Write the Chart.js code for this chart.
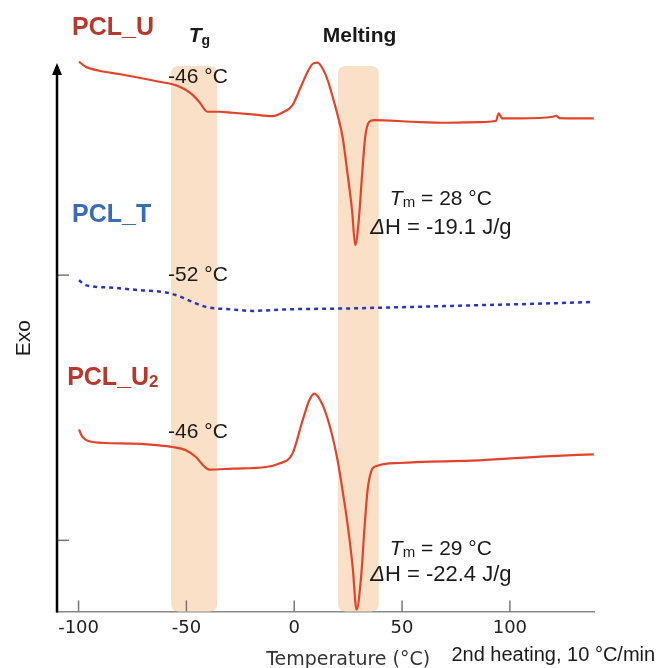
<!DOCTYPE html>
<html>
<head>
<meta charset="utf-8">
<script src="https://cdn.jsdelivr.net/npm/chart.js@4.4.1/dist/chart.umd.min.js"></script>
<style>
  html, body { margin: 0; padding: 0; background: #fff; }
  #wrap { width: 661px; height: 668px; }
</style>
</head>
<body>
<div id="wrap"><canvas id="dsc"></canvas></div>
<script>
// temperature (°C) / offset heat flow (a.u., exo up)
var uTemp = [-99.8, -96.7, -90.5, -81.2, -71.9, -62.6, -56.9, -52.6, -47.9, -44.1, -40.2, -34.8, -28.6, -19.4, -10.1, -5.4, -0.8, 3.1, 6.2, 8.5, 10.8, 13.1, 15.5, 17.8, 20.1, 22.4, 24.7, 26.8, 28.3, 29.8, 31.4, 32.9, 34.8, 37.1, 54.9, 70.4, 85.8, 93.6, 94.8, 96.4, 104.4, 119.9, 121.4, 123.0, 138.9];
var uFlow = [54.93, 54.43, 54.03, 53.7, 53.33, 52.93, 52.7, 52.37, 51.77, 50.93, 49.93, 49.93, 49.83, 49.67, 49.5, 49.85, 50.6, 52.43, 53.93, 54.7, 54.83, 54.27, 53.1, 51.43, 49.6, 47.43, 43.77, 40.1, 36.6, 38.77, 43.43, 47.43, 48.93, 49.1, 48.93, 48.83, 48.9, 49.03, 49.77, 49.27, 49.27, 49.43, 49.53, 49.3, 49.27];

var tTemp = [-99.8, -96.7, -85.8, -71.9, -59.5, -53.4, -47.2, -41.0, -28.6, -19.4, -5.4, 24.0, 54.9, 85.8, 116.8, 138.9];
var tFlow = [33.1, 32.6, 32.37, 32.1, 31.87, 31.5, 30.93, 30.43, 30.17, 30.03, 30.17, 30.27, 30.43, 30.6, 30.77, 30.93];

var u2Temp = [-99.8, -98.2, -95.1, -87.4, -75.0, -62.6, -56.5, -50.3, -45.6, -41.8, -39.4, -28.6, -13.1, -7.0, -0.8, 3.9, 7.0, 9.3, 11.6, 14.7, 17.8, 20.1, 22.4, 24.7, 27.1, 28.9, 31.0, 32.5, 34.0, 35.6, 37.9, 48.7, 85.8, 116.8, 138.9];
var u2Flow = [18.17, 17.43, 17.0, 16.83, 16.77, 16.6, 16.43, 16.1, 15.43, 14.5, 14.17, 14.27, 14.43, 14.77, 15.77, 19.1, 21.1, 21.77, 21.27, 19.77, 17.43, 15.1, 12.1, 8.77, 4.43, 0.17, 3.43, 8.1, 12.1, 13.93, 14.5, 14.83, 15.1, 15.5, 15.7];

var xTicks = [-100, -50, 0, 50, 100];
var yMarks = [33.6, 7.1];
var tgBand = [-57.1, -35.7];
var meltBand = [20.3, 39.2];
var bandTop = 54.5;

function pts(xs, ys) {
  return xs.map(function(x, i) { return {x: x, y: ys[i]}; });
}

var SANS = '"Liberation Sans", Arial, sans-serif';

function txt(ctx, s, x, y, font, color, align) {
  ctx.font = font;
  ctx.fillStyle = color;
  ctx.textAlign = align || 'left';
  ctx.textBaseline = 'middle';
  ctx.fillText(s, x, y);
}

// draws a run of [text, font, dy] pieces, left to right
function runs(ctx, parts, x, y, color, center) {
  var w = 0;
  parts.forEach(function(p) { ctx.font = p[1]; w += ctx.measureText(p[0]).width; });
  var cx = center ? x - w / 2 : x;
  ctx.fillStyle = color;
  ctx.textAlign = 'left';
  ctx.textBaseline = 'middle';
  parts.forEach(function(p) {
    ctx.font = p[1];
    ctx.fillText(p[0], cx, y + (p[2] || 0));
    cx += ctx.measureText(p[0]).width;
  });
}

function roundBox(ctx, x0, y0, x1, y1, r) {
  ctx.beginPath();
  ctx.moveTo(x0 + r, y0);
  ctx.lineTo(x1 - r, y0);
  ctx.quadraticCurveTo(x1, y0, x1, y0 + r);
  ctx.lineTo(x1, y1 - r);
  ctx.quadraticCurveTo(x1, y1, x1 - r, y1);
  ctx.lineTo(x0 + r, y1);
  ctx.quadraticCurveTo(x0, y1, x0, y1 - r);
  ctx.lineTo(x0, y0 + r);
  ctx.quadraticCurveTo(x0, y0, x0 + r, y0);
  ctx.fill();
}

var decor = {
  id: 'decor',
  beforeDatasetsDraw: function(chart) {
    var ctx = chart.ctx, xs = chart.scales.x, ys = chart.scales.y;
    ctx.save();
    ctx.fillStyle = '#f9e0c7';
    [tgBand, meltBand].forEach(function(b) {
      roundBox(ctx, xs.getPixelForValue(b[0]), ys.getPixelForValue(bandTop),
        xs.getPixelForValue(b[1]), ys.getPixelForValue(0), 8);
    });
    ctx.restore();
  },
  afterDraw: function(chart) {
    var ctx = chart.ctx, xs = chart.scales.x, ys = chart.scales.y, a = chart.chartArea;
    ctx.save();
    // inward x ticks
    ctx.strokeStyle = '#777';
    ctx.lineWidth = 1.5;
    xTicks.forEach(function(t) {
      var px = xs.getPixelForValue(t);
      ctx.beginPath(); ctx.moveTo(px, a.bottom); ctx.lineTo(px, a.bottom - 11); ctx.stroke();
    });
    yMarks.forEach(function(v) {
      var py = ys.getPixelForValue(v);
      ctx.beginPath(); ctx.moveTo(a.left, py); ctx.lineTo(a.left + 12, py); ctx.stroke();
    });
    // exo arrow
    var tip = ys.getPixelForValue(54.8);
    ctx.strokeStyle = '#000';
    ctx.fillStyle = '#000';
    ctx.lineWidth = 2.5;
    ctx.beginPath(); ctx.moveTo(a.left, a.bottom + 1); ctx.lineTo(a.left, tip + 8); ctx.stroke();
    ctx.beginPath(); ctx.moveTo(a.left, tip); ctx.lineTo(a.left - 5, tip + 12); ctx.lineTo(a.left + 5, tip + 12); ctx.closePath(); ctx.fill();

    function X(t) { return xs.getPixelForValue(t); }
    function Y(v) { return ys.getPixelForValue(v); }
    var red = '#b8382b', blue = '#3a6bb8', ink = '#1a1a1a';

    txt(ctx, 'PCL_U', X(-103), Y(58.3), 'bold 25px ' + SANS, red);
    txt(ctx, 'PCL_T', X(-103), Y(39.6), 'bold 25px ' + SANS, blue);
    runs(ctx, [['PCL_U', 'bold 25px ' + SANS], ['2', 'bold 17px ' + SANS, 4]], X(-105.3), Y(23.3), red);

    runs(ctx, [['T', 'italic bold 21px ' + SANS], ['g', 'bold 14px ' + SANS, 5]], X(-48.9), Y(57.5), ink);
    txt(ctx, 'Melting', X(30.3), Y(57.5), 'bold 21px ' + SANS, ink, 'center');

    txt(ctx, '-46 °C', X(-58.5), Y(53.4), '21px ' + SANS, ink);
    txt(ctx, '-52 °C', X(-58.5), Y(33.6), '21px ' + SANS, ink);
    txt(ctx, '-46 °C', X(-58.5), Y(17.9), '21px ' + SANS, ink);

    runs(ctx, [['T', 'italic 21px ' + SANS], ['m', '15px ' + SANS, 4], [' = 28 °C', '21px ' + SANS]], X(68), Y(41.2), ink, true);
    runs(ctx, [['Δ', 'italic 22px ' + SANS], ['H = -19.1 J/g', '22px ' + SANS]], X(68), Y(38.3), ink, true);
    runs(ctx, [['T', 'italic 21px ' + SANS], ['m', '15px ' + SANS, 4], [' = 29 °C', '21px ' + SANS]], X(68), Y(6.2), ink, true);
    runs(ctx, [['Δ', 'italic 22px ' + SANS], ['H = -22.4 J/g', '22px ' + SANS]], X(68), Y(3.6), ink, true);

    // axis titles
    ctx.save();
    ctx.translate(a.left - 33, Y(27.3));
    ctx.rotate(-Math.PI / 2);
    txt(ctx, 'Exo', 0, 0, '21px ' + SANS, ink, 'center');
    ctx.restore();
    txt(ctx, 'Temperature (°C)', X(25), a.bottom + 49, '19px "DejaVu Sans", sans-serif', '#333', 'center');
    txt(ctx, '2nd heating, 10 °C/min', X(72.9), a.bottom + 44, '20px ' + SANS, ink);
    ctx.restore();
  }
};

new Chart(document.getElementById('dsc'), {
  type: 'line',
  data: {
    datasets: [{
      label: 'PCL_U',
      data: pts(uTemp, uFlow),
      borderColor: '#e4432b',
      borderWidth: 2.2,
      pointRadius: 0,
      cubicInterpolationMode: 'monotone',
      fill: false
    }, {
      label: 'PCL_T',
      data: pts(tTemp, tFlow),
      borderColor: '#2b35bb',
      borderWidth: 2.5,
      borderDash: [4, 4],
      pointRadius: 0,
      cubicInterpolationMode: 'monotone',
      fill: false
    }, {
      label: 'PCL_U2',
      data: pts(u2Temp, u2Flow),
      borderColor: '#e4432b',
      borderWidth: 2.2,
      pointRadius: 0,
      cubicInterpolationMode: 'monotone',
      fill: false
    }]
  },
  options: {
    responsive: true,
    maintainAspectRatio: false,
    animation: false,
    events: [],
    layout: {
      padding: { left: 57, right: 67, top: 51, bottom: 23 }
    },
    plugins: {
      legend: { display: false },
      tooltip: { enabled: false }
    },
    scales: {
      x: {
        type: 'linear',
        min: -110,
        max: 139,
        afterBuildTicks: function(scale) {
          scale.ticks = xTicks.map(function(v) { return {value: v}; });
        },
        border: { color: '#888', width: 1.5 },
        grid: { drawOnChartArea: false, drawTicks: false },
        ticks: {
          padding: 6,
          color: '#222',
          font: { family: '"DejaVu Sans", sans-serif', size: 18 }
        }
      },
      y: {
        display: false,
        min: 0,
        max: 56
      }
    }
  },
  plugins: [decor]
});
</script>
</body>
</html>
